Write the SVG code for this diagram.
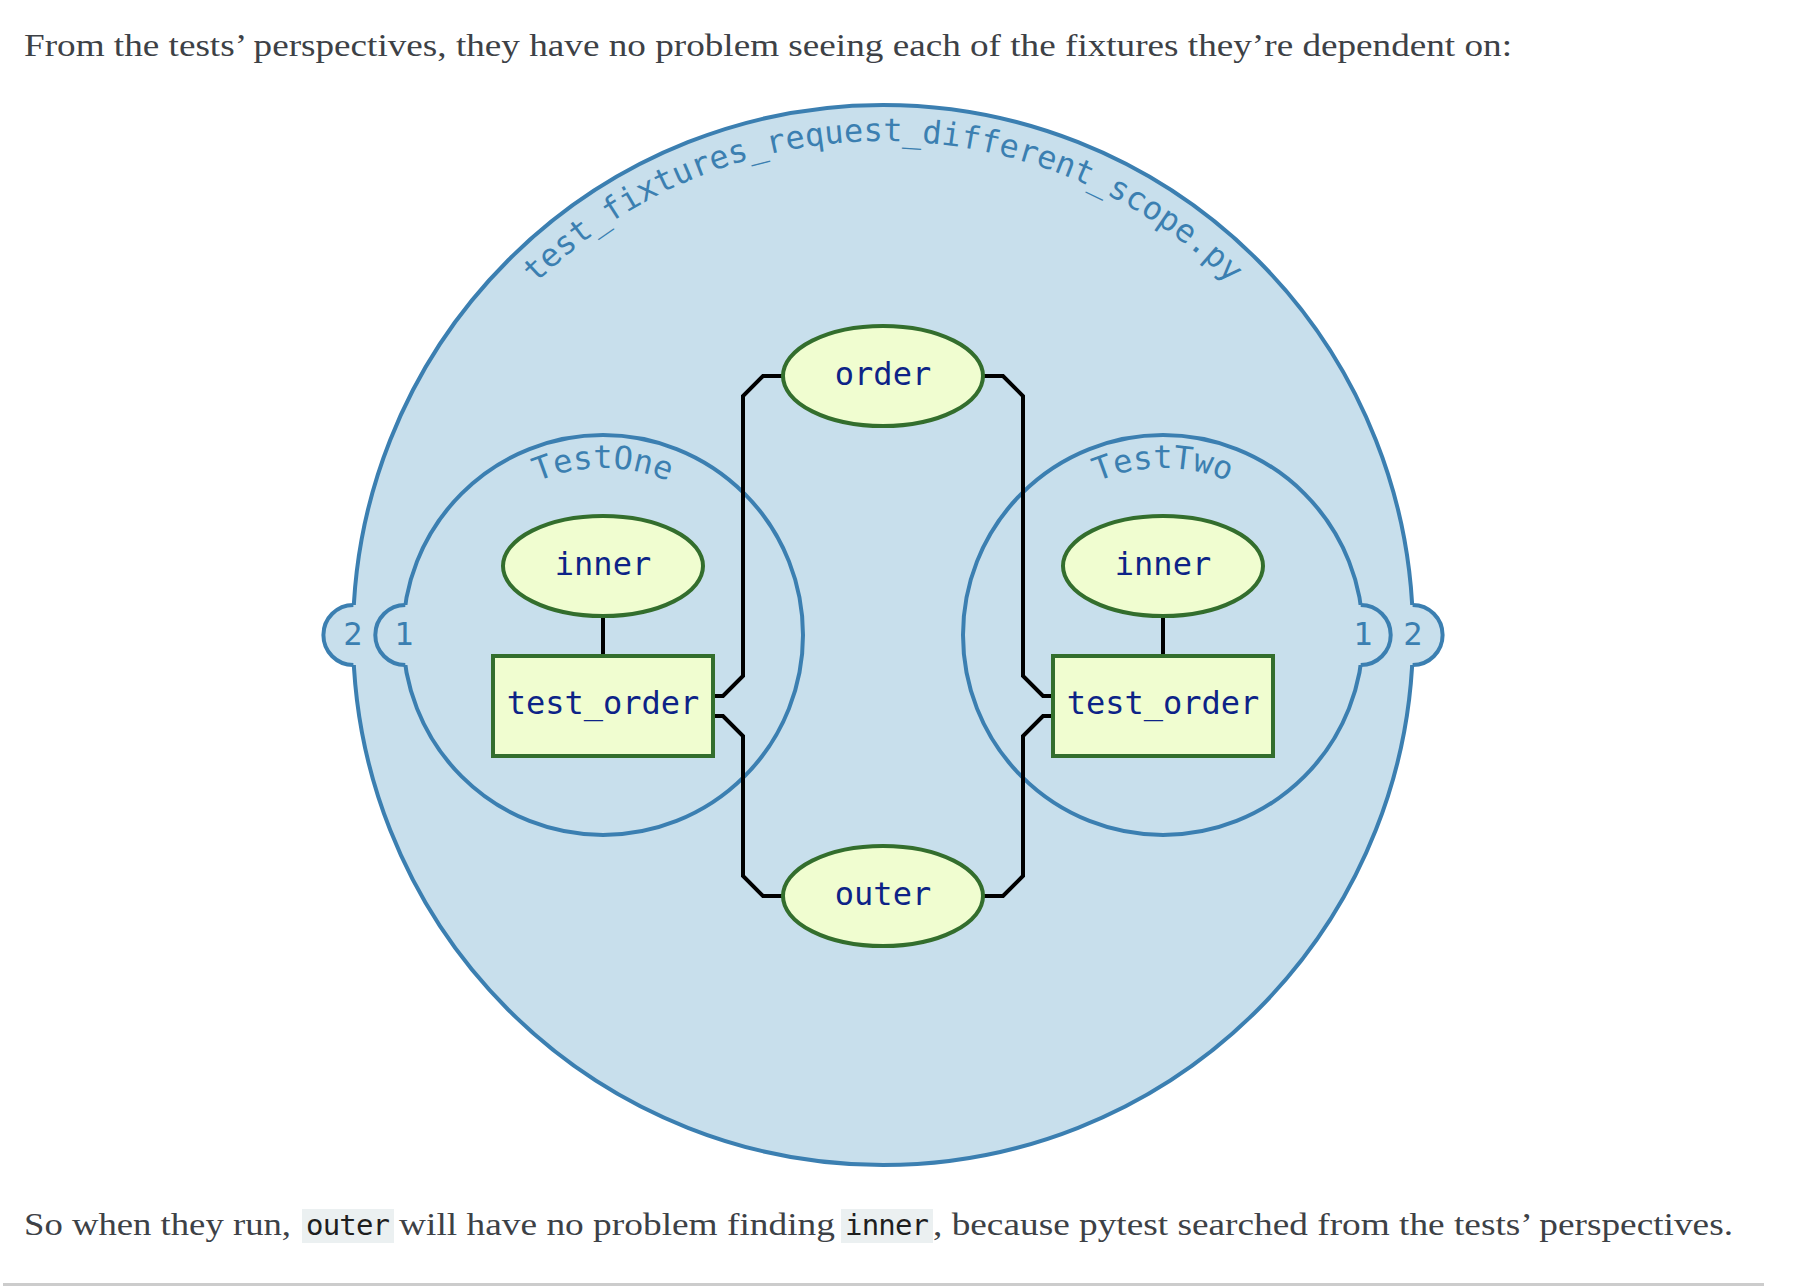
<svg xmlns="http://www.w3.org/2000/svg" xmlns:xlink="http://www.w3.org/1999/xlink" width="1802" height="1286" viewBox="0 0 1802 1286">
<style>
.prose { font-family: "Liberation Serif", "Times New Roman", serif; font-size: 32px; fill: #3d4146; }
.code { font-family: "DejaVu Sans Mono", monospace; font-size: 29px; fill: #1e1e1e; }
.codebg { fill: #ebf0f1; }
.scope { fill: #c8dfec; stroke: #3b7fb1; stroke-width: 4; }
.bumpfill { fill: #c8dfec; stroke: none; }
.bumpline { fill: none; stroke: #3b7fb1; stroke-width: 4; }
.scopetext { font-family: "DejaVu Sans Mono", monospace; font-size: 32px; fill: #3b7fb1; }
.num { font-family: "DejaVu Sans Mono", monospace; font-size: 32px; fill: #3b7fb1; text-anchor: middle; }
.node { fill: #f0fdd0; stroke: #336e2d; stroke-width: 4; }
.label { font-family: "DejaVu Sans Mono", monospace; font-size: 32px; fill: #0d2387; text-anchor: middle; }
.conn { fill: none; stroke: #000000; stroke-width: 4; }
</style>
<defs>
<path id="modPath" d="M 389,635 A 494 494 0 0 1 1377,635"/>
<path id="oneArc" d="M 436,635 A 167 167 0 0 1 770,635"/>
<path id="twoArc" d="M 996,635 A 167 167 0 0 1 1330,635"/>
</defs>
<rect width="1802" height="1286" fill="#ffffff"/>
<text class="prose" x="24" y="56" textLength="1488" lengthAdjust="spacingAndGlyphs">From the tests’ perspectives, they have no problem seeing each of the fixtures they’re dependent on:</text>

<g id="module">
<circle class="scope" cx="883" cy="635" r="530"/>
<text class="scopetext"><textPath xlink:href="#modPath" href="#modPath" startOffset="50%" text-anchor="middle">test_fixtures_request_different_scope.py</textPath></text>
</g>
<g id="TestOne">
<circle class="scope" cx="603" cy="635" r="200"/>
<text class="scopetext"><textPath xlink:href="#oneArc" href="#oneArc" startOffset="50%" text-anchor="middle">TestOne</textPath></text>
</g>
<g id="TestTwo">
<circle class="scope" cx="1163" cy="635" r="200"/>
<text class="scopetext"><textPath xlink:href="#twoArc" href="#twoArc" startOffset="50%" text-anchor="middle">TestTwo</textPath></text>
</g>
<g id="scope-numbers">
<path class="bumpfill" d="M 356,605 L 353.4,605 A 30 30 0 0 0 353.4,665 L 356,665 Z"/>
<path class="bumpline" d="M 353.4,605 A 30 30 0 0 0 353.4,665"/>
<text class="num" x="353" y="645">2</text>
<path class="bumpfill" d="M 408,605 L 405.3,605 A 30 30 0 0 0 405.3,665 L 408,665 Z"/>
<path class="bumpline" d="M 405.3,605 A 30 30 0 0 0 405.3,665"/>
<text class="num" x="404" y="645">1</text>
<path class="bumpfill" d="M 1358,605 L 1360.7,605 A 30 30 0 0 1 1360.7,665 L 1358,665 Z"/>
<path class="bumpline" d="M 1360.7,605 A 30 30 0 0 1 1360.7,665"/>
<text class="num" x="1363" y="645">1</text>
<path class="bumpfill" d="M 1410,605 L 1412.6,605 A 30 30 0 0 1 1412.6,665 L 1410,665 Z"/>
<path class="bumpline" d="M 1412.6,605 A 30 30 0 0 1 1412.6,665"/>
<text class="num" x="1413" y="645">2</text>
</g>

<g id="connectors">
<path class="conn" d="M 603,616 L 603,656"/>
<path class="conn" d="M 1163,616 L 1163,656"/>
<path class="conn" d="M 713,696 L 723,696 L 743,676 L 743,396 L 763,376 L 783,376"/>
<path class="conn" d="M 713,716 L 723,716 L 743,736 L 743,876 L 763,896 L 783,896"/>
<path class="conn" d="M 983,376 L 1003,376 L 1023,396 L 1023,676 L 1043,696 L 1053,696"/>
<path class="conn" d="M 983,896 L 1003,896 L 1023,876 L 1023,736 L 1043,716 L 1053,716"/>
</g>

<g id="order">
<ellipse class="node" cx="883" cy="376" rx="100" ry="50"/>
<text class="label" x="883" y="385">order</text>
</g>
<g id="outer">
<ellipse class="node" cx="883" cy="896" rx="100" ry="50"/>
<text class="label" x="883" y="905">outer</text>
</g>
<g id="inner-one">
<ellipse class="node" cx="603" cy="566" rx="100" ry="50"/>
<text class="label" x="603" y="575">inner</text>
</g>
<g id="test_order-one">
<rect class="node" x="493" y="656" width="220" height="100"/>
<text class="label" x="603" y="714">test_order</text>
</g>
<g id="inner-two">
<ellipse class="node" cx="1163" cy="566" rx="100" ry="50"/>
<text class="label" x="1163" y="575">inner</text>
</g>
<g id="test_order-two">
<rect class="node" x="1053" y="656" width="220" height="100"/>
<text class="label" x="1163" y="714">test_order</text>
</g>

<text class="prose" x="24" y="1235" textLength="267" lengthAdjust="spacingAndGlyphs">So when they run,</text>
<rect class="codebg" x="302" y="1209" width="92" height="34"/>
<text class="code" x="306" y="1235" textLength="84" lengthAdjust="spacing">outer</text>
<text class="prose" x="399" y="1235" textLength="436" lengthAdjust="spacingAndGlyphs">will have no problem finding</text>
<rect class="codebg" x="841" y="1209" width="92" height="34"/>
<text class="code" x="845" y="1235" textLength="84" lengthAdjust="spacing">inner</text>
<text class="prose" x="933" y="1235" textLength="800" lengthAdjust="spacingAndGlyphs">, because pytest searched from the tests’ perspectives.</text>
<rect x="3" y="1283" width="1761" height="3" fill="#cccccc"/>
</svg>
